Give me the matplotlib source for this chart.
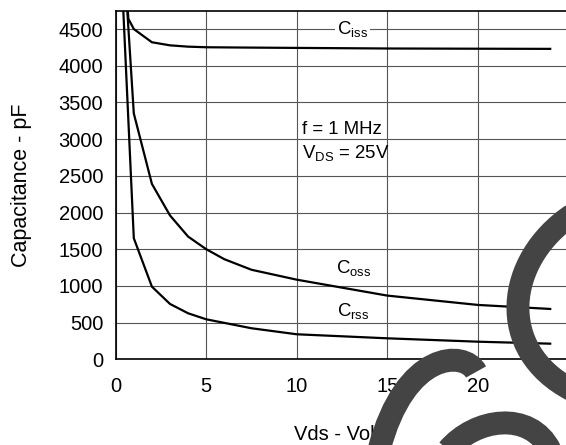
import numpy as np
import matplotlib
matplotlib.use('Agg')
import matplotlib.pyplot as plt
from matplotlib.path import Path
from matplotlib.patches import PathPatch

plt.rcParams['font.family'] = ['Liberation Sans', 'DejaVu Sans']
plt.rcParams['mathtext.default'] = 'regular'

# capacitance vs drain-source voltage
ciss_v = [0.2, 0.7, 1, 2, 3, 4, 5, 7, 10, 15, 20, 24]
ciss_pf = [6450, 4640, 4500, 4320, 4278, 4260, 4252, 4248, 4243, 4235, 4232, 4230]
coss_v = [0.2, 1, 2, 3, 4, 5, 6, 7.5, 10, 15, 20, 24]
coss_pf = [6460, 3350, 2390, 1960, 1672, 1500, 1364, 1220, 1085, 868, 741, 686]
crss_v = [0.2, 1, 2, 3, 4, 5, 7.5, 10, 15, 20, 24]
crss_pf = [5930, 1650, 990, 754, 627, 545, 423, 341, 286, 240, 213]

xticks = [0, 5, 10, 15, 20, 25]
yticks = [0, 500, 1000, 1500, 2000, 2500, 3000, 3500, 4000, 4500]

W, H = 566, 445
fig = plt.figure(figsize=(W / 100, H / 100), dpi=100)
ax = fig.add_axes([115.7 / W, 1 - 359.3 / H, (568.3 - 115.7) / W, (359.3 - 10.7) / H])
ax.set_xlim(0, 25)
ax.set_ylim(0, 4750)

for v, c in [(ciss_v, ciss_pf), (coss_v, coss_pf), (crss_v, crss_pf)]:
    ax.plot(v, c, color='black', lw=1.6, zorder=3)

ax.set_xticks(xticks)
ax.set_yticks(yticks)
ax.tick_params(length=0, labelsize=14.5)
ax.tick_params(axis='x', pad=12.5)
ax.tick_params(axis='y', pad=9)
ax.grid(True, color='#555555', lw=0.8)
ax.set_axisbelow(True)
for s in ax.spines.values():
    s.set_linewidth(1.2)
ax.set_xlabel('Vds - Volts', fontsize=14.5, labelpad=21)
ax.set_ylabel('Capacitance - pF', fontsize=15.5, labelpad=19)

ax.text(13.1, 4500, 'C$_{iss}$', fontsize=13.4, ha='center', va='center', zorder=4,
        bbox=dict(facecolor='white', edgecolor='none', pad=1.5))
ax.text(12.17, 1173, 'C$_{oss}$', fontsize=13.4, ha='left', va='baseline', zorder=4)
ax.text(12.2, 590, 'C$_{rss}$', fontsize=13.4, ha='left', va='baseline', zorder=4)
ax.text(10.28, 3070, 'f = 1 MHz', fontsize=13.4, ha='left', va='baseline', zorder=4)
ax.text(10.28, 2742, 'V$_{DS}$ = 25V', fontsize=13.4, ha='left', va='baseline', zorder=4)

# gray scribble strokes over the picture (pixel coords, top-left origin)
strokes = [
    [(572, 215), (505, 260), (495, 350), (572, 390)],
    [(379, 450), (405, 350), (465, 350), (476, 372)],
    [(448, 450), (475, 418), (530, 410), (550, 450)],
]
for pts in strokes:
    verts = [(x / W, 1 - y / H) for x, y in pts]
    p = Path(verts, [Path.MOVETO, Path.CURVE4, Path.CURVE4, Path.CURVE4])
    fig.add_artist(PathPatch(p, transform=fig.transFigure, fill=False,
                             edgecolor='#444444', lw=16.5, capstyle='butt', zorder=10))

fig.savefig('out.png', dpi=100)
